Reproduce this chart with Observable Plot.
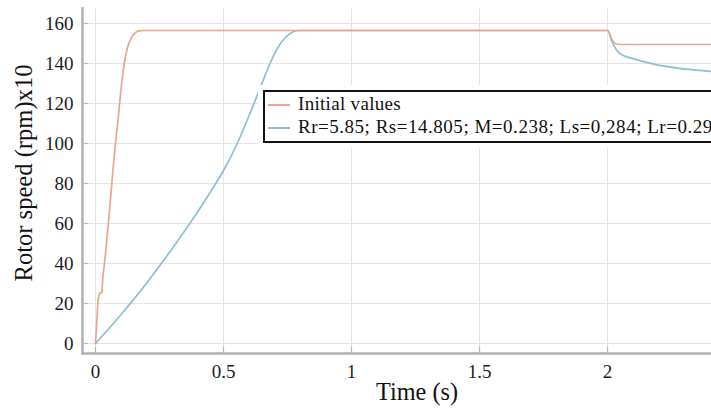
<!DOCTYPE html>
<html>
<head>
<meta charset="utf-8">
<script src="https://cdn.jsdelivr.net/npm/d3@7"></script>
<script src="https://cdn.jsdelivr.net/npm/@observablehq/plot@0.6"></script>
<style>
  html, body { margin: 0; padding: 0; background: #fff; overflow: hidden; }
  #wrap { position: relative; width: 711px; height: 410px; overflow: hidden; }
  #legend {
    position: absolute; left: 263px; top: 90px; width: 480px; height: 49px;
    border: 2px solid #111; background: #fff; box-shadow: 0 0 0 5px #fff; color: #111;
  }
  .row { display: flex; align-items: flex-start; height: 23px; line-height: 23px; padding-left: 3px; white-space: nowrap; }
  .sw { width: 22px; height: 2px; margin-top: 12px; margin-right: 8px; flex: none; }
</style>
</head>
<body>
<div id="wrap"></div>
<script>
// ---- data ----
const seriesNames = ["Initial values", "Rr=5.85; Rs=14.805; M=0.238; Ls=0,284; Lr=0.294"];
const seriesColors = ["#eba58c", "#8dbfd2"];

const tInitial = [0, 0.004, 0.009, 0.016, 0.025, 0.027, 0.035, 0.043, 0.05, 0.059, 0.068, 0.078, 0.089, 0.098, 0.107, 0.115, 0.125, 0.14, 0.155, 0.17, 0.19, 2.0, 2.015, 2.03, 2.05, 2.406];
const vInitial = [0, 8, 20, 25, 25.5, 30, 40, 50, 60, 73, 86.5, 100, 113, 125, 135, 142, 148, 152.8, 155.3, 156.3, 156.5, 156.5, 152.5, 150, 149.5, 149.5];

const tModified = [0, 0.05, 0.1, 0.15, 0.2, 0.25, 0.3, 0.35, 0.4, 0.45, 0.5, 0.55, 0.6, 0.65, 0.685, 0.71, 0.735, 0.76, 0.79, 2.0, 2.018, 2.05, 2.103, 2.194, 2.298, 2.406];
const vModified = [0, 7.1, 14.5, 22.2, 30.3, 38.8, 47.5, 56.6, 66, 76, 86.5, 99, 114, 130, 141, 147.5, 152, 155, 156.5, 156.5, 150.7, 144.8, 142.3, 139.3, 137.3, 136];

const xTicks = [0, 0.5, 1, 1.5, 2];
const xTickLabels = ["0", "0.5", "1", "1.5", "2"];
const yTicks = [0, 20, 40, 60, 80, 100, 120, 140, 160];
const xLabel = "Time (s)";
const yLabel = "Rotor speed (rpm)x10";

// ---- fonts: serif if available; size fitted to the reference text widths ----
const font = "'Liberation Serif', 'Times New Roman', Tinos, 'Noto Serif', 'DejaVu Serif', 'Nimbus Roman', FreeSerif, Georgia, Times, serif";
const ctx = document.createElement("canvas").getContext("2d");
function textWidth(text, size) {
  ctx.font = `${size}px ${font}`;
  return ctx.measureText(text).width;
}
function fitSize(text, targetWidth) {
  return Math.min(30, 100 * targetWidth / textWidth(text, 100));
}
const tickSize = Math.min(19, fitSize("160", 29));
const xLabelSize = fitSize(xLabel, 82);
const yLabelSize = fitSize(yLabel, 217);
const legendSize = Math.min(19, fitSize(seriesNames[0], 103));
// widths of the legend texts in the reference (second one runs past the right edge)
const legendTargets = [103, 425];

// ---- build ----
const initial = tInitial.map((t, i) => ({t, v: vInitial[i]}));
const modified = tModified.map((t, i) => ({t, v: vModified[i]}));

const chart = Plot.plot({
  width: 711,
  height: 410,
  marginLeft: 82,
  marginRight: 0,
  marginTop: 8,
  marginBottom: 57,
  style: {fontFamily: font, background: "#fff", overflow: "visible"},
  x: {domain: [-0.0508, 2.406]},
  y: {domain: [-5, 167.5]},
  marks: [
    Plot.gridX(xTicks, {stroke: "#e3e3e3", strokeOpacity: 1, strokeWidth: 1}),
    Plot.gridY(yTicks, {stroke: "#e3e3e3", strokeOpacity: 1, strokeWidth: 1}),
    Plot.line(modified, {x: "t", y: "v", stroke: seriesColors[1], strokeWidth: 1.7, curve: "monotone-x"}),
    Plot.line(initial, {x: "t", y: "v", stroke: seriesColors[0], strokeWidth: 1.7, curve: "monotone-x"}),
    Plot.axisX(xTicks, {tickSize: -6, text: null, label: null, stroke: "#b5b5b5", strokeWidth: 1.2}),
    Plot.axisX(xTicks, {tickSize: 0, tickPadding: 11, tickFormat: (d, i) => xTickLabels[i], fontSize: tickSize, fill: "#1c1c28", label: null, fontFamily: font}),
    Plot.axisY(yTicks, {tickSize: -6, text: null, label: null, stroke: "#b5b5b5", strokeWidth: 1.2}),
    Plot.axisY(yTicks, {tickSize: 0, tickPadding: 9, fontSize: tickSize, fill: "#1c1c28", label: null, fontFamily: font}),
    Plot.frame({anchor: "left", stroke: "#b0b0b0", strokeWidth: 2.5}),
    Plot.frame({anchor: "bottom", stroke: "#b0b0b0", strokeWidth: 2.5}),
    Plot.text([xLabel], {frameAnchor: "bottom", textAnchor: "middle", dx: 20, dy: 46, fontSize: xLabelSize, fill: "#111", fontFamily: font}),
    Plot.text([yLabel], {frameAnchor: "left", textAnchor: "middle", dx: -58, dy: -8, rotate: -90, fontSize: yLabelSize, fill: "#111", fontFamily: font})
  ]
});

const wrap = document.getElementById("wrap");
wrap.appendChild(chart);

const legend = document.createElement("div");
legend.id = "legend";
legend.style.fontFamily = font;
legend.style.fontSize = legendSize + "px";
seriesNames.forEach((name, i) => {
  const row = document.createElement("div");
  row.className = "row";
  const sw = document.createElement("span");
  sw.className = "sw";
  sw.style.background = seriesColors[i];
  const tx = document.createElement("span");
  tx.textContent = name;
  const w = textWidth(name, legendSize);
  const ls = Math.max(0, (legendTargets[i] - w) / name.length);
  tx.style.letterSpacing = ls.toFixed(2) + "px";
  row.appendChild(sw);
  row.appendChild(tx);
  legend.appendChild(row);
});
wrap.appendChild(legend);
</script>
</body>
</html>
